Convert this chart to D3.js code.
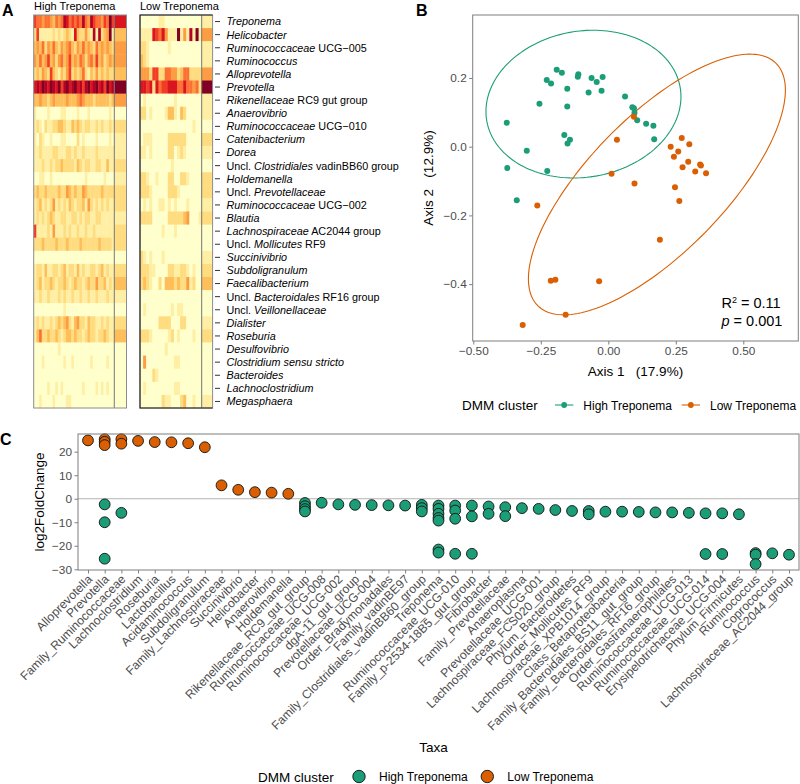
<!DOCTYPE html>
<html><head><meta charset="utf-8">
<script src="https://cdn.jsdelivr.net/npm/d3@7"></script>
<style>
body{margin:0;background:#fff}
svg text{font-family:"Liberation Sans",Arial,Helvetica,sans-serif;white-space:pre}
</style>
</head><body>
<svg id="chart" width="800" height="784"></svg>
<script>
// ---------------- DATA ----------------
// Panel A: heatmap taxa (italic parts between *)
const heatTaxa = ["*Treponema*","*Helicobacter*","*Ruminococcaceae* UCG\u2212005","*Ruminococcus*","*Alloprevotella*","*Prevotella*","*Rikenellaceae* RC9 gut group","*Anaerovibrio*","*Ruminococcaceae* UCG\u2212010","*Catenibacterium*","*Dorea*","Uncl. *Clostridiales* vadinBB60 group","*Holdemanella*","Uncl. *Prevotellaceae*","*Ruminococcaceae* UCG\u2212002","*Blautia*","*Lachnospiraceae* AC2044 group","Uncl. *Mollicutes* RF9","*Succinivibrio*","*Subdoligranulum*","*Faecalibacterium*","Uncl. *Bacteroidales* RF16 group","Uncl. *Veillonellaceae*","*Dialister*","*Roseburia*","*Desulfovibrio*","*Clostridium sensu stricto*","*Bacteroides*","*Lachnoclostridium*","*Megasphaera*"];
// abundance level per sample (0..9), one string per taxon
const heatHigh = [
"655455435458756565854865546596","261111121212321732242181823491","343524353243453243534325343432","435346342453463435424536342343","232432632132462323521324232322",
"787987987968978978689789786978","334332343333433345433323333323","100001000011000010001000000010","121021122332113232122112121121","102100100011000020100001000010",
"112111122111221211211112111111","111211212232222132122112211311","001100100000000000010000001000","232232222322432322432222232222","123121241212132122314212121211",
"121212321122112212122112211111","611112141112121121121121111111","222322223222322223222222322221","000000000000000000000000000000","122131122123122131211221231211",
"123122321223212322123224223121","112112111212112112112112111211","000000000001000000000000000000","121211212323421342213221121211","135223223212332322123221223211",
"000000000100000000000000000000","000100000001001000000100000100","000000000000000000000000000000","000001001010000000100001010100","001000010000110000000000000000"];
const heatHighMean = [7,3,4,4,3,9,4,0,2,1,1,2,1,2,2,1,2,2,0,2,3,1,0,2,3,0,0,0,0,0];
const heatLow = [
"00000011000000000000","11117657411191418191","22100000010000000000","32100000000000000000","44426622554423552222",
"77672756677755755452","01000000000100000000","22010000133103200000","00000000000000000100","01110000022222200000",
"11010000022012100000","00000000001000000000","22100100022002210000","22210000022210000000","01010011010100010000",
"22220000022222340001","00000001000100000000","00000000000000000000","21010001000000000000","22211000022112210100",
"23210020333232241200","00000000000000000000","01000000001011000000","00000022220002200000","22210000012010000100",
"00000000100000000000","04000000000110000000","00002100000000000000","01000000000110000000","00000002110002300100"];
const heatLowMean = [1,4,1,1,4,9,1,1,0,2,1,0,2,2,1,2,0,0,1,2,3,0,0,1,2,0,0,0,0,1];

// Panel B: PCoA coordinates [Axis1, Axis2]
const pcoaHigh = [[-0.376,0.070],[-0.374,-0.062],[-0.302,-0.012],[-0.255,0.125],[-0.228,0.194],[-0.212,0.184],[-0.191,0.224],[-0.172,0.215],[-0.152,0.169],[-0.152,0.117],[-0.226,-0.071],[-0.163,0.034],[-0.142,0.020],[-0.151,0.009],[-0.113,0.204],[-0.111,0.211],[-0.062,0.200],[-0.073,0.158],[-0.043,0.188],[-0.025,0.163],[-0.021,0.203],[0.062,0.146],[0.089,0.115],[0.095,0.112],[0.097,0.099],[0.107,0.077],[0.140,0.067],[0.167,0.061],[0.170,0.022],[-0.339,-0.156]];
const pcoaLow = [[0.095,0.087],[0.032,0.020],[0.012,-0.079],[0.097,-0.107],[0.231,0.000],[0.272,0.025],[0.300,0.007],[0.259,-0.014],[0.243,-0.029],[0.296,-0.044],[0.275,-0.060],[0.340,-0.052],[0.343,-0.055],[0.322,-0.072],[0.362,-0.077],[0.247,-0.118],[0.263,-0.158],[-0.263,-0.171],[0.191,-0.271],[-0.213,-0.390],[-0.196,-0.387],[-0.034,-0.392],[-0.158,-0.489],[-0.317,-0.519]];
const ellipseCenter = [[-0.092,0.124],[0.180,-0.110]];
const ellipseCov = [[0.1304,0.0078,0.04623],[0.2265,0.1307,0.1440]]; // sxx, sxy, syy
const clusters = ["High Treponema","Low Treponema"];
const clusterColors = ["#1b9e77","#d95f02"];
const bXTicks = [-0.5,-0.25,0,0.25,0.5];
const bYTicks = [-0.4,-0.2,0,0.2];
const statR2 = "0.11", statP = "0.001";

// Panel C: differential abundance
const taxaC = ["Alloprevotella","Prevotella","Family_Ruminococcaceae","Lachnoclostridium","Roseburia","Lactobacillus","Acidaminococcus","Subdoligranulum","Family_Lachnospiraceae","Succinivibrio","Helicobacter","Anaerovibrio","Holdemanella","Rikenellaceae_RC9_gut_group","Ruminococcaceae_UCG-008","Ruminococcaceae_UCG-002","dgA-11_gut_group","Prevotellaceae_UCG-004","Order_Bradymonadales","Family_vadinBE97","Family_Clostridiales_vadinBB60_group","Treponema","Ruminococcaceae_UCG-010","Family_p-2534-18B5_gut_group","Fibrobacter","Family_Prevotellaceae","Anaeroplasma","Prevotellaceae_UCG-001","Lachnospiraceae_FCS020_group","Phylum_Bacteroidetes","Order_Mollicutes_RF9","Lachnospiraceae_XPB1014_group","Class_Betaproteobacteria","Family_Bacteroidales_BS11_gut_group","Family_Bacteroidales_RF16_group","Order_Gastranaerophilales","Ruminococcaceae_UCG-013","Ruminococcaceae_UCG-014","Erysipelotrichaceae_UCG-004","Phylum_Firmicutes","Ruminococcus","Coprococcus","Lachnospiraceae_AC2044_group"];
const lfcLow = [["Alloprevotella",24.8],["Prevotella",25.3],["Prevotella",24.2],["Prevotella",22.8],["Family_Ruminococcaceae",25.3],["Family_Ruminococcaceae",23.4],["Lachnoclostridium",24.6],["Roseburia",24.1],["Lactobacillus",24.0],["Acidaminococcus",23.6],["Subdoligranulum",21.9],["Family_Lachnospiraceae",5.7],["Succinivibrio",3.8],["Helicobacter",2.8],["Anaerovibrio",2.6],["Holdemanella",2.1]];
const lfcHigh = [["Prevotella",-2.4],["Prevotella",-10.0],["Prevotella",-25.5],["Family_Ruminococcaceae",-6.0],["Rikenellaceae_RC9_gut_group",-1.8],["Rikenellaceae_RC9_gut_group",-3.2],["Rikenellaceae_RC9_gut_group",-4.4],["Rikenellaceae_RC9_gut_group",-5.4],["Ruminococcaceae_UCG-008",-1.7],["Ruminococcaceae_UCG-002",-2.4],["dgA-11_gut_group",-2.6],["Prevotellaceae_UCG-004",-2.7],["Order_Bradymonadales",-2.8],["Family_vadinBE97",-2.9],["Family_Clostridiales_vadinBB60_group",-2.6],["Family_Clostridiales_vadinBB60_group",-4.0],["Family_Clostridiales_vadinBB60_group",-5.4],["Treponema",-2.9],["Treponema",-4.3],["Treponema",-6.4],["Treponema",-8.2],["Treponema",-9.3],["Treponema",-21.6],["Treponema",-22.9],["Ruminococcaceae_UCG-010",-2.9],["Ruminococcaceae_UCG-010",-5.0],["Ruminococcaceae_UCG-010",-8.5],["Ruminococcaceae_UCG-010",-23.4],["Family_p-2534-18B5_gut_group",-2.9],["Family_p-2534-18B5_gut_group",-7.5],["Family_p-2534-18B5_gut_group",-23.4],["Fibrobacter",-3.3],["Fibrobacter",-6.4],["Family_Prevotellaceae",-3.6],["Family_Prevotellaceae",-7.4],["Anaeroplasma",-4.0],["Prevotellaceae_UCG-001",-4.3],["Lachnospiraceae_FCS020_group",-4.8],["Phylum_Bacteroidetes",-5.2],["Order_Mollicutes_RF9",-5.2],["Order_Mollicutes_RF9",-6.6],["Lachnospiraceae_XPB1014_group",-5.5],["Class_Betaproteobacteria",-5.5],["Family_Bacteroidales_BS11_gut_group",-5.6],["Family_Bacteroidales_RF16_group",-5.8],["Order_Gastranaerophilales",-5.8],["Ruminococcaceae_UCG-013",-6.0],["Ruminococcaceae_UCG-014",-6.2],["Ruminococcaceae_UCG-014",-23.5],["Erysipelotrichaceae_UCG-004",-6.2],["Erysipelotrichaceae_UCG-004",-23.5],["Phylum_Firmicutes",-6.6],["Ruminococcus",-23.1],["Ruminococcus",-23.8],["Ruminococcus",-27.8],["Coprococcus",-23.2],["Lachnospiraceae_AC2044_group",-23.8]];
const cYTicks = [-30,-20,-10,0,10,20];

// ---------------- DRAW ----------------
const svg = d3.select("#chart");
const GRAY_TXT = "#4d4d4d", BORDER = "#7f7f7f";

function richText(sel, label) {
  label.split("*").forEach((seg, i) => {
    if (!seg) return;
    sel.append("tspan").attr("font-style", i % 2 ? "italic" : "normal").text(seg);
  });
}
function panelLabel(t, x, y) {
  svg.append("text").attr("x", x).attr("y", y).attr("font-size", 16).attr("font-weight", "bold").text(t);
}

// ===== Panel A =====
panelLabel("A", 2, 16);
const rowBand = d3.scaleBand().domain(d3.range(heatTaxa.length)).range([15, 408]);
const heatColor = v => d3.interpolateYlOrRd(v / 9);

function drawHeat(rows, means, x0, x1, x2, blackEdge) {
  const nCol = rows[0].length;
  const colBand = d3.scaleBand().domain(d3.range(nCol)).range([x0, x1]);
  const cells = [];
  rows.forEach((s, r) => s.split("").forEach((c, k) => cells.push({r, k, v: +c})));
  const g = svg.append("g");
  g.selectAll("rect.cell").data(cells).join("rect").attr("class", "cell")
    .attr("x", d => colBand(d.k)).attr("y", d => rowBand(d.r))
    .attr("width", colBand.bandwidth() + 0.4).attr("height", rowBand.bandwidth() + 0.4)
    .attr("fill", d => heatColor(d.v));
  g.selectAll("rect.mean").data(means).join("rect").attr("class", "mean")
    .attr("x", x1).attr("y", (d, i) => rowBand(i))
    .attr("width", x2 - x1).attr("height", rowBand.bandwidth() + 0.4)
    .attr("fill", d => heatColor(d));
  g.append("line").attr("x1", x1).attr("x2", x1).attr("y1", 15).attr("y2", 408)
    .attr("stroke", "#777").attr("stroke-width", 1);
  g.append("rect").attr("x", x0).attr("y", 15).attr("width", x2 - x0).attr("height", 393)
    .attr("fill", "none").attr("stroke", "#8c8c8c").attr("stroke-width", 1);
  if (blackEdge) {
    g.append("path").attr("d", `M${x2},15H${x0}V408H${x2}`).attr("fill", "none")
      .attr("stroke", "#222").attr("stroke-width", 1.1);
  }
}
drawHeat(heatHigh, heatHighMean, 33.7, 114.3, 126.5, false);
drawHeat(heatLow, heatLowMean, 140, 201.7, 212.6, true);

svg.append("text").attr("x", 34).attr("y", 9.5).attr("font-size", 11).text("High Treponema");
svg.append("text").attr("x", 140).attr("y", 9.5).attr("font-size", 11).text("Low Treponema");

const aLab = svg.append("g");
heatTaxa.forEach((t, i) => {
  const yc = rowBand(i) + rowBand.bandwidth() / 2;
  aLab.append("line").attr("x1", 215).attr("x2", 220).attr("y1", yc).attr("y2", yc).attr("stroke", "#333");
  const tx = aLab.append("text").attr("x", 226.5).attr("y", yc + 3.9).attr("font-size", 10.8);
  richText(tx, t);
});

// ===== Panel B =====
panelLabel("B", 416, 16);
const bx = d3.scaleLinear().domain([-0.5, 0.25]).range([473.3, 675.8]);
const by = d3.scaleLinear().domain([0, 0.2]).range([146.7, 78]);
const bL = 472.7, bR = 798.3, bT = 15, bB = 341;

const xAxB = svg.append("g").attr("transform", `translate(0,${bB})`)
  .call(d3.axisBottom(bx).tickValues(bXTicks).tickFormat(d3.format(".2f")).tickSize(3.5).tickPadding(2.5));
const yAxB = svg.append("g").attr("transform", `translate(${bL},0)`)
  .call(d3.axisLeft(by).tickValues(bYTicks).tickFormat(d3.format(".1f")).tickSize(3.5).tickPadding(2.5));
[xAxB, yAxB].forEach(a => {
  a.select(".domain").remove();
  a.selectAll("line").attr("stroke", BORDER);
  a.selectAll("text").attr("fill", GRAY_TXT).attr("font-size", 11.8).attr("font-family", null);
});

// ellipses
const ellLine = d3.line().x(d => bx(d[0])).y(d => by(d[1])).curve(d3.curveLinearClosed);
ellipseCenter.forEach((c, i) => {
  const [sxx, sxy, syy] = ellipseCov[i];
  const l11 = Math.sqrt(sxx), l21 = sxy / l11, l22 = Math.sqrt(syy - l21 * l21);
  const pts = d3.range(0, 2 * Math.PI, Math.PI / 90).map(t => {
    const u = Math.cos(t), v = Math.sin(t);
    return [c[0] + l11 * u, c[1] + l21 * u + l22 * v];
  });
  svg.append("path").attr("d", ellLine(pts)).attr("fill", "none")
    .attr("stroke", clusterColors[i]).attr("stroke-width", 1.1);
});
// points
[pcoaHigh, pcoaLow].forEach((pts, i) => {
  svg.append("g").selectAll("circle").data(pts).join("circle")
    .attr("cx", d => bx(d[0])).attr("cy", d => by(d[1])).attr("r", 3)
    .attr("fill", clusterColors[i]);
});
svg.append("rect").attr("x", bL).attr("y", bT).attr("width", bR - bL).attr("height", bB - bT)
  .attr("fill", "none").attr("stroke", BORDER).attr("stroke-width", 1);

const stat = svg.append("g").attr("font-size", 14.5);
const r2 = stat.append("text").attr("x", 721.5).attr("y", 308);
r2.append("tspan").text("R");
r2.append("tspan").attr("font-size", 9).attr("dy", -5.5).text("2");
r2.append("tspan").attr("dy", 5.5).text(" = " + statR2);
const pt = stat.append("text").attr("x", 721.5).attr("y", 325.5);
pt.append("tspan").attr("font-style", "italic").text("p");
pt.append("tspan").text(" = " + statP);

svg.append("text").attr("x", (bL + bR) / 2).attr("y", 376).attr("text-anchor", "middle")
  .attr("font-size", 13.5).text("Axis 1   (17.9%)");
svg.append("text").attr("transform", `translate(433,${(bT + bB) / 2}) rotate(-90)`).attr("text-anchor", "middle")
  .attr("font-size", 13.5).text("Axis 2   (12.9%)");

// legend B
svg.append("text").attr("x", 462).attr("y", 410).attr("font-size", 13.5).text("DMM cluster");
const legBX = [555, 681.7];
clusters.forEach((c, i) => {
  const x = legBX[i];
  svg.append("line").attr("x1", x).attr("x2", x + 18.3).attr("y1", 405).attr("y2", 405)
    .attr("stroke", clusterColors[i]).attr("stroke-width", 1.1);
  svg.append("circle").attr("cx", x + 9.15).attr("cy", 405).attr("r", 2.9).attr("fill", clusterColors[i]);
  svg.append("text").attr("x", x + 28.3).attr("y", 409.5).attr("font-size", 12).text(c);
});

// ===== Panel C =====
panelLabel("C", 0, 445);
const cL = 78, cR = 799, cT = 434, cB = 570;
const cx = d3.scalePoint().domain(taxaC).range([88, 789]);
const cy = d3.scaleLinear().domain([-30, 20]).range([569.3, 451.7]);

svg.append("line").attr("x1", cL).attr("x2", cR).attr("y1", cy(0)).attr("y2", cy(0))
  .attr("stroke", "#b3b3b3").attr("stroke-width", 1);

const yAxC = svg.append("g").attr("transform", `translate(${cL},0)`)
  .call(d3.axisLeft(cy).tickValues(cYTicks).tickFormat(d3.format("d")).tickSize(3.5).tickPadding(2.5));
yAxC.select(".domain").remove();
yAxC.selectAll("line").attr("stroke", BORDER);
yAxC.selectAll("text").attr("fill", GRAY_TXT).attr("font-size", 11.8).attr("font-family", null);

const xAxC = svg.append("g").attr("transform", `translate(0,${cB})`)
  .call(d3.axisBottom(cx).tickSize(3.5).tickFormat(""));
xAxC.select(".domain").remove();
xAxC.selectAll("line").attr("stroke", BORDER);
svg.append("g").selectAll("text").data(taxaC).join("text")
  .attr("transform", d => `translate(${cx(d) + 5},${cB + 10}) rotate(-45)`)
  .attr("text-anchor", "end").attr("font-size", 12.2).attr("fill", GRAY_TXT).text(d => d);

[lfcHigh, lfcLow].forEach((pts, i) => {
  svg.append("g").selectAll("circle").data(pts).join("circle")
    .attr("cx", d => cx(d[0])).attr("cy", d => cy(d[1])).attr("r", 5.4)
    .attr("fill", clusterColors[i]).attr("stroke", "#111").attr("stroke-width", 0.9);
});
svg.append("rect").attr("x", cL).attr("y", cT).attr("width", cR - cL).attr("height", cB - cT)
  .attr("fill", "none").attr("stroke", BORDER).attr("stroke-width", 1);

svg.append("text").attr("transform", `translate(44,${(cT + cB) / 2}) rotate(-90)`).attr("text-anchor", "middle")
  .attr("font-size", 13.5).text("log2FoldChange");
svg.append("text").attr("x", 433.5).attr("y", 752).attr("text-anchor", "middle").attr("font-size", 13.5).text("Taxa");

// legend C
svg.append("text").attr("x", 258).attr("y", 782).attr("font-size", 13.5).text("DMM cluster");
const legCX = [359, 487.3];
clusters.forEach((c, i) => {
  svg.append("circle").attr("cx", legCX[i]).attr("cy", 776.5).attr("r", 6.2)
    .attr("fill", clusterColors[i]).attr("stroke", "#111").attr("stroke-width", 0.9);
  svg.append("text").attr("x", legCX[i] + 20).attr("y", 781).attr("font-size", 12).text(c);
});
</script>
</body></html>
